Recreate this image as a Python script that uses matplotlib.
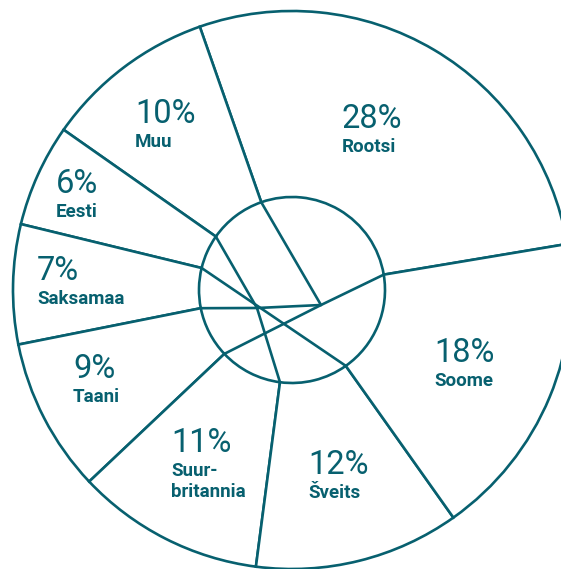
import matplotlib.pyplot as plt
import numpy as np

# share of each country, counter-clockwise from the right
countries = ['Rootsi', 'Muu', 'Eesti', 'Saksamaa', 'Taani', 'Suur-\nbritannia', 'Šveits', 'Soome']
shares = [28, 10, 6, 7, 9, 11, 12, 18]

TEAL = '#07606f'
W, H = 561, 569
CX, CY = 292, H - 290          # pie centre in pixel units
R_OUT, R_IN = 279, 93
START = 9.5
LW = 1.9

# where the percent text starts (left edge, baseline), image pixels from top-left
label_xy = [(342, 128), (135, 123), (56, 193), (37, 280),
            (73, 378), (171, 452), (308, 474), (434, 362)]

# centre lines are joined at two hubs; entries are boundary numbers or hub names
hubs = {'p1': (321, 305), 'p2': (257, 308)}
inner_paths = [[1, 'p1'], [0, 'p1', 5], [4, 'p2', 'p1'], [2, 'p2', 6], [3, 7]]

fig = plt.figure(figsize=(W / 100, H / 100), dpi=100)
ax = fig.add_axes([0, 0, 1, 1])

wedges, _ = ax.pie(shares, radius=R_OUT, center=(CX, CY), startangle=START,
                   counterclock=True,
                   wedgeprops=dict(width=R_OUT - R_IN, facecolor='white',
                                   edgecolor=TEAL, linewidth=LW))

# boundary angles of the wedges (start angle of each one)
bounds = [w.theta1 for w in wedges]


def point(key):
    if isinstance(key, str):
        x, y = hubs[key]
        return x, H - y
    a = np.radians(bounds[key])
    return CX + R_IN * np.cos(a), CY + R_IN * np.sin(a)


for path in inner_paths:
    pts = np.array([point(k) for k in path])
    ax.plot(pts[:, 0], pts[:, 1], color=TEAL, lw=LW,
            solid_joinstyle='round', solid_capstyle='round')

for name, val, (x, y) in zip(countries, shares, label_xy):
    ax.text(x, H - y, f'{val}%', color=TEAL, fontsize=23.5,
            family='Roboto', weight='normal', ha='left', va='baseline')
    for i, line in enumerate(name.split('\n')):
        ax.text(x, H - y - 24 - 21 * i, line, color=TEAL, fontsize=13.5,
                family='Roboto', weight='bold', ha='left', va='baseline')

ax.set_xlim(0, W)
ax.set_ylim(0, H)
ax.set_aspect('auto')
ax.axis('off')

fig.savefig('out.png', dpi=100, facecolor='white')
